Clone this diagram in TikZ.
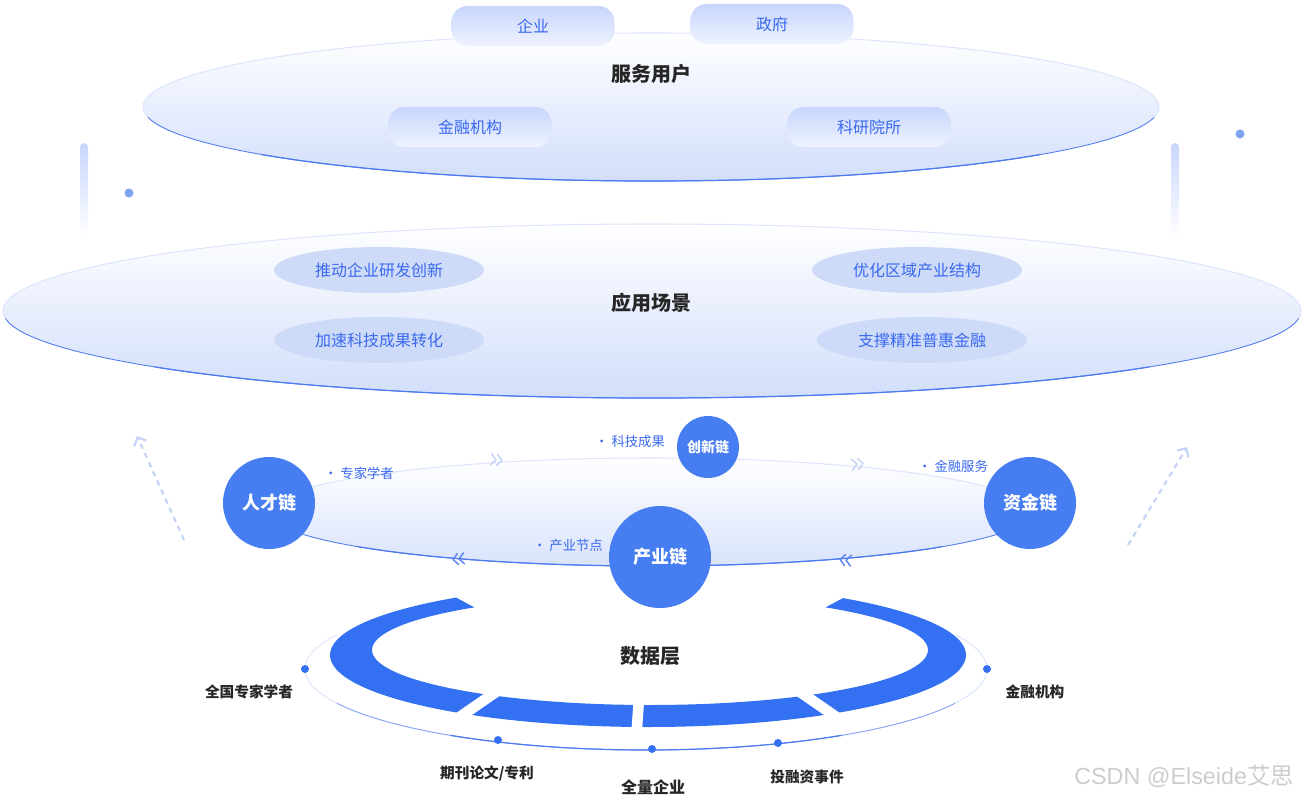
\documentclass[tikz,border=0pt]{standalone}
\usepackage{fontspec}
\setmainfont{Noto Sans CJK SC}
\newfontfamily\wmfont{Liberation Sans}
\usetikzlibrary{shapes.geometric,arrows.meta}
\definecolor{cblue}{HTML}{467DF0}
\definecolor{ringb}{HTML}{3370F2}
\definecolor{tblue}{HTML}{3A69EE}
\definecolor{ptop}{HTML}{C8D6FC}
\definecolor{pbot}{HTML}{EFF3FF}
\definecolor{subfill}{HTML}{CEDBF8}
\definecolor{efill}{HTML}{D2DEFB}
\definecolor{elight}{HTML}{DCE5FB}
\definecolor{estrong}{HTML}{4C7AEF}
\definecolor{dark}{HTML}{262626}
\definecolor{dotc}{HTML}{7EA3F3}
\definecolor{dashc}{HTML}{C5D3F7}
\definecolor{wmc}{HTML}{CCCCCC}
\definecolor{chevl}{HTML}{C3D2F7}
\definecolor{chevs}{HTML}{5A85F0}
\begin{document}
\begin{tikzpicture}[x=0.75pt,y=-0.75pt,
  title/.style={font=\fontsize{15}{18}\selectfont\bfseries, text=dark},
  pill/.style={rounded corners=12pt, minimum width=122.25pt, minimum height=30pt,
    top color=ptop, bottom color=pbot, text=tblue, font=\fontsize{12}{14}\selectfont},
  sube/.style={ellipse, fill=subfill, minimum width=157.5pt, minimum height=34.5pt,
    inner sep=0pt, text=tblue, font=\fontsize{12}{14}\selectfont},
  chain/.style={circle, fill=cblue, text=white, inner sep=0pt,
    font=\fontsize{13.5}{16}\selectfont\bfseries},
  clabel/.style={text=tblue, font=\fontsize{10}{12}\selectfont, inner sep=0pt},
  dlabel/.style={text=dark, font=\fontsize{11}{13}\selectfont\bfseries, inner sep=0pt},
  dotmark/.style={fill=ringb},
  dasharrow/.style={dashc, line width=1.6pt, dash pattern=on 4pt off 3.5pt,
    -{Straight Barb[length=5pt, width=10pt, line width=1.6pt]}},
  chev/.pic={\draw[line width=1.1pt, line cap=round, line join=round]
     (-6,-5.5)--(-1,0)--(-6,5.5) (0,-5.5)--(5,0)--(0,5.5);}
]
\useasboundingbox (0,0) rectangle (1303,799);

% decorative bars and dots
\shade[top color=ptop, bottom color=white, rounded corners=3pt] (80,143) rectangle (88,237);
\shade[top color=ptop, bottom color=white, rounded corners=3pt] (1171,143) rectangle (1179,237);
\fill[dotc] (129,193) circle[radius=4.5];
\fill[dotc] (1240,134) circle[radius=4.5];

% ===== service users =====
\shade[top color=white, bottom color=efill] (651,107) ellipse [x radius=508, y radius=74];
\draw[elight, line width=0.8pt] (651,107) ellipse [x radius=508, y radius=74];
\draw[estrong, line width=0.6pt] ([shift={(651,107)}]8:508 and 74) arc[start angle=8, end angle=172, x radius=508, y radius=74];
\draw[estrong, line width=0.9pt] ([shift={(651,107)}]40:508 and 74) arc[start angle=40, end angle=140, x radius=508, y radius=74];
\node[title] (tUsers) at (651,74) {服务用户};
\node[pill] (pQiye) at (533,26) {企业};
\node[pill] (pZhengfu) at (772,24) {政府};
\node[pill] (pJinrong) at (470,127) {金融机构};
\node[pill] (pKeyan) at (869,127) {科研院所};

% ===== application scenes =====
\shade[top color=white, bottom color=efill] (652,311) ellipse [x radius=649, y radius=87];
\draw[elight, line width=0.8pt] (652,311) ellipse [x radius=649, y radius=87];
\draw[estrong, line width=0.6pt] ([shift={(652,311)}]5:649 and 87) arc[start angle=5, end angle=175, x radius=649, y radius=87];
\draw[estrong, line width=0.9pt] ([shift={(652,311)}]40:649 and 87) arc[start angle=40, end angle=140, x radius=649, y radius=87];
\node[title] (tScene) at (651,303) {应用场景};
\node[sube] (s1) at (379,270) {推动企业研发创新};
\node[sube] (s2) at (379,340) {加速科技成果转化};
\node[sube] (s3) at (917,270) {优化区域产业结构};
\node[sube] (s4) at (922,340) {支撑精准普惠金融};

% ===== chain layer =====
\coordinate (la0) at (184,540);
\coordinate (la1) at (137,436);
\coordinate (ra0) at (1128,545);
\coordinate (ra1) at (1187,447);
\draw[dasharrow] (la0) -- (la1);
\draw[dasharrow] (ra0) -- (ra1);

\shade[top color=white, bottom color=efill!85] (650,512) ellipse [x radius=381, y radius=54];
\draw[elight, line width=0.8pt] (650,512) ellipse [x radius=381, y radius=54];
\draw[estrong, line width=0.6pt] ([shift={(650,512)}]10:381 and 54) arc[start angle=10, end angle=170, x radius=381, y radius=54];
\draw[estrong, line width=0.9pt] ([shift={(650,512)}]40:381 and 54) arc[start angle=40, end angle=140, x radius=381, y radius=54];

\pic[color=chevl, rotate=-6] at (497,460) {chev};
\pic[color=chevl, rotate=6] at (858,464) {chev};
\pic[color=chevs, rotate=186] at (458,559) {chev};
\pic[color=chevs, rotate=174] at (845,560) {chev};

\node[chain, minimum size=69pt] (cRencai) at (269,503) {人才链};
\node[chain, minimum size=69pt] (cZijin) at (1030,503) {资金链};
\node[chain, minimum size=46.5pt, font=\fontsize{10.5}{12}\selectfont\bfseries] (cChuangxin) at (708,447) {创新链};

\node[clabel] (lZhuanjia) at (359,473) {• 专家学者};
\node[clabel] (lKeji) at (630,441) {• 科技成果};
\node[clabel] (lJinrong) at (953,466) {• 金融服务};
\node[clabel] (lChanye) at (568,545) {• 产业节点};

% ===== data layer =====
\draw[elight, line width=0.8pt] ([shift={(646,669)}]-25:341 and 81) arc[start angle=-25, end angle=205, x radius=341, y radius=81];
\draw[estrong!70, line width=0.6pt] ([shift={(646,669)}]25:341 and 81) arc[start angle=25, end angle=155, x radius=341, y radius=81];
\draw[estrong, line width=0.9pt] ([shift={(646,669)}]55:341 and 81) arc[start angle=55, end angle=125, x radius=341, y radius=81];

\begin{scope}
  \clip (300,745) -- (300,597) -- (455,597) -- (500,621) -- (800,621) -- (845,597)
        -- (1000,597) -- (1000,745) -- cycle;
  \fill[ringb, even odd rule] (648,655) ellipse [x radius=318, y radius=72]
        (650,650) ellipse [x radius=278, y radius=55];
\end{scope}
\foreach \t in {125.5,92,54.5}
  \draw[white, line width=8pt] ([shift={(648,655)}]\t:255 and 42) -- ([shift={(648,655)}]\t:332 and 80);

\fill[dotmark] (305,669) circle[radius=4];
\fill[dotmark] (987,669) circle[radius=4];
\fill[dotmark] (498,740) circle[radius=4];
\fill[dotmark] (652,749) circle[radius=4];
\fill[dotmark] (778,743) circle[radius=4];

\node[chain, minimum size=76.5pt] (cChanye) at (660,557) {产业链};

\node[title] (tData) at (650,656) {数据层};
\node[dlabel] (dExpert) at (249,692) {全国专家学者};
\node[dlabel] (dFin) at (1035,692) {金融机构};
\node[dlabel] (dPaper) at (487,773) {期刊论文/专利};
\node[dlabel, font=\fontsize{12}{14}\selectfont\bfseries] (dAll) at (653,787) {全量企业};
\node[dlabel] (dInvest) at (807,777) {投融资事件};

% watermark
\node[text=wmc, inner sep=0pt, font=\fontsize{17.5}{19}\selectfont] (wm) at (1184,776) {{\wmfont CSDN @Elseide}艾思};
\end{tikzpicture}
\end{document}
